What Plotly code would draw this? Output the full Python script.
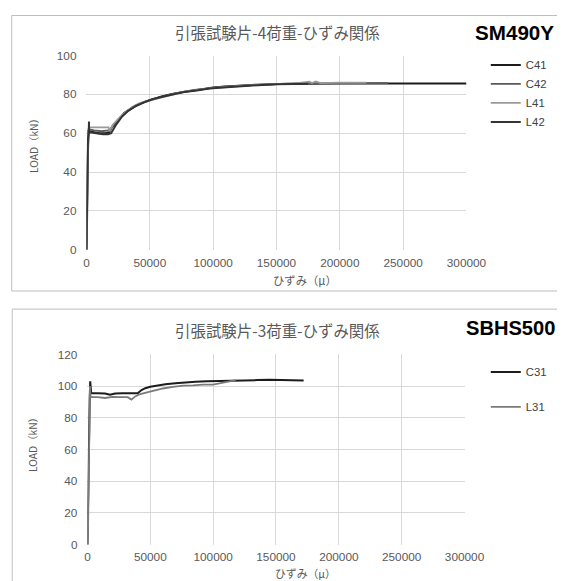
import plotly.graph_objects as go

# ---------------- data: chart 1 (SM490Y, specimen 4) ----------------
c41_x = [0, 300, 800, 1200, 1500, 2000, 5000, 10000, 15000, 18000, 20000, 25000, 30000, 35000,
         40000, 45000, 50000, 60000, 70000, 80000, 90000, 100000, 110000, 120000, 135000, 150000,
         165000, 180000, 200000, 225000, 250000, 275000, 300000]
c41_y = [0, 5, 35, 58, 61, 61, 60.5, 60, 60, 60.5, 63, 67, 70.5, 72.5, 74.5, 76, 77, 79, 80.5,
         81.5, 82.5, 83.5, 84, 84.5, 85, 85.3, 85.5, 85.6, 85.6, 85.6, 85.6, 85.6, 85.6]

c42_x = [0, 400, 1000, 1800, 2200, 6000, 12000, 17000, 19000, 22000, 27000, 32000, 38000, 44000,
         50000, 58000, 66000, 75000, 85000, 95000, 105000, 115000, 130000, 145000, 160000, 175000,
         190000, 205000, 220000, 238000]
c42_y = [0, 20, 50, 60, 62, 61.5, 61, 61.5, 62, 65, 68.5, 71.5, 74, 75.5, 77, 78.5, 80, 81.2,
         82.3, 83, 83.8, 84.2, 84.8, 85.2, 85.5, 85.8, 85.7, 85.8, 85.8, 85.8]

l41_x = [0, 200, 600, 1500, 2000, 2500, 8000, 14000, 17500, 18000, 21000, 26000, 31000, 36000,
         42000, 48000, 55000, 62000, 70000, 78000, 86000, 95000, 105000, 118000, 132000, 148000,
         165000, 176000, 178000, 181000, 185000, 200000, 221000]
l41_y = [0, 10, 45, 62, 63, 63, 63, 63, 63, 61, 64.5, 68, 71, 73.5, 75.5, 76.5, 78, 79.2, 80.2,
         81.5, 82, 83, 83.5, 84.3, 84.8, 85.2, 85.6, 86.5, 85.8, 86.6, 85.8, 86, 86]

l42_x = [0, 500, 1200, 1800, 2000, 2100, 2600, 7000, 13000, 17000, 19500, 23000, 28000, 33000,
         39000, 46000, 52000, 60000, 68000, 77000, 87000, 97000, 108000, 120000, 135000, 150000,
         165000, 175000]
l42_y = [0, 34, 57, 60, 66, 60, 60.5, 60, 59.5, 59.5, 60, 64, 68.5, 71.5, 74, 76, 77.5, 78.8,
         80, 81.2, 82, 83, 83.5, 84.2, 84.7, 85.2, 85.4, 85.5]

# ---------------- data: chart 2 (SBHS500, specimen 3) ----------------
c31_x = [0, 500, 1200, 1800, 2200, 2600, 3000, 8000, 14000, 18000, 22000, 28000, 34000, 40000,
         43000, 46000, 50000, 55000, 62000, 70000, 78000, 86000, 95000, 103000, 110000, 118000,
         125000, 135000, 145000, 155000, 163000, 172000]
c31_y = [0, 38, 72, 92, 103, 97, 95.5, 95.5, 95.3, 94.5, 95.3, 95.5, 95.5, 95.5, 97.5, 98.7,
         99.6, 100.3, 101.2, 101.8, 102.4, 102.8, 103, 103.2, 103.3, 103.8, 104, 103.8, 104,
         103.9, 104.1, 103.6]

l31_x = [0, 400, 1000, 1600, 2000, 2400, 3000, 8000, 14000, 20000, 26000, 32000, 35000, 38000,
         42000, 47000, 53000, 60000, 68000, 76000, 84000, 92000, 100000, 106000, 112000, 118000]
l31_y = [0, 5, 40, 70, 100, 94, 93, 93, 92.5, 93.2, 93, 93, 91.5, 93.5, 95, 96, 97, 98.5, 99.5,
         100.3, 100.5, 101, 101, 101.8, 103, 103.8]

x_ticks = [0, 50000, 100000, 150000, 200000, 250000, 300000]
x_ticktext = ["0", "50000", "100000", "150000", "200000", "250000", "300000"]
y1_ticks = [0, 20, 40, 60, 80, 100]
y2_ticks = [0, 20, 40, 60, 80, 100, 120]

title1 = "引張試験片-4荷重-ひずみ関係"
title2 = "引張試験片-3荷重-ひずみ関係"
label1 = "SM490Y"
label2 = "SBHS500"
x_title = "ひずみ（μ）"
y_title = "LOAD（kN）"

# ---------------- figure ----------------
# observed mapping from page pixels to the photographed picture: pic = A + S * page
S, AX, AY, OFF = 0.97, 3.0, 8.0, 8.0
W, H = 575, 590
K = 1 / S  # font / size compensation


def fx(t):
    return ((t - AX) / S - OFF) / W


def fy(t):
    return 1 - ((t - AY) / S - OFF) / H


fig = go.Figure()

series1 = [("C41", c41_x, c41_y, "#1c1c1c", 2.0), ("C42", c42_x, c42_y, "#595959", 1.8),
           ("L41", l41_x, l41_y, "#9a9a9a", 1.8), ("L42", l42_x, l42_y, "#333333", 2.0)]
for name, xs, ys, col, lw in series1:
    fig.add_trace(go.Scatter(x=xs, y=ys, mode="lines", name=name, xaxis="x", yaxis="y",
                             line=dict(color=col, width=lw), legend="legend"))

series2 = [("C31", c31_x, c31_y, "#1c1c1c", 2.0), ("L31", l31_x, l31_y, "#7a7a7a", 1.8)]
for name, xs, ys, col, lw in series2:
    fig.add_trace(go.Scatter(x=xs, y=ys, mode="lines", name=name, xaxis="x2", yaxis="y2",
                             line=dict(color=col, width=lw), legend="legend2",
                             legendgroup=name))

tickfont = dict(family="Liberation Sans, Arial, sans-serif", size=11.8, color="#595959")
grid = "#d9d9d9"
axcommon = dict(showgrid=True, gridcolor=grid, gridwidth=1, zeroline=False, showline=False,
                ticks="", tickfont=tickfont)
legfont = dict(family="Liberation Sans, sans-serif", size=11 * K, color="#404040")

fig.update_layout(
    width=W, height=H, margin=dict(l=0, r=0, t=0, b=0),
    paper_bgcolor="white", plot_bgcolor="white",
    xaxis=dict(domain=[fx(87), fx(471)], range=[0, 300000], tickvals=x_ticks,
               ticktext=x_ticktext, anchor="y", ticklabelstandoff=4, **axcommon),
    yaxis=dict(domain=[fy(249), fy(56)], range=[0, 100], tickvals=y1_ticks,
               anchor="x", ticklabelstandoff=9, **axcommon),
    xaxis2=dict(domain=[fx(88), fx(469)], range=[0, 300000], tickvals=x_ticks,
                ticktext=x_ticktext, anchor="y2", ticklabelstandoff=4, **axcommon),
    yaxis2=dict(domain=[fy(542), fy(353)], range=[0, 120], tickvals=y2_ticks,
                anchor="x2", ticklabelstandoff=9, **axcommon),
    legend=dict(x=fx(490.5), y=fy(51), xanchor="left", yanchor="top", font=legfont,
                bgcolor="rgba(0,0,0,0)", tracegroupgap=0),
    legend2=dict(x=fx(490.5), y=fy(356), xanchor="left", yanchor="top", font=legfont,
                 bgcolor="rgba(0,0,0,0)", tracegroupgap=16),
    showlegend=True,
)

# chart frames
fig.add_shape(type="rect", xref="paper", yref="paper", x0=fx(11) + 0.5 / W, x1=1.2,
              y0=fy(290), y1=1 - 0.5 / H, line=dict(color="#bfbfbf", width=1), layer="below")
fig.add_shape(type="rect", xref="paper", yref="paper", x0=fx(12), x1=1.2, y0=-0.2,
              y1=fy(308), line=dict(color="#bfbfbf", width=1), layer="below")

cjk = "Noto Sans CJK JP, sans-serif"
bold = "Liberation Sans, Arial, sans-serif"
grey = "#595959"
ann = [
    dict(text=title1, x=fx(280), y=fy(33), font=dict(family=cjk, size=15 * K, color=grey)),
    dict(text=title2, x=fx(280), y=fy(329), font=dict(family=cjk, size=15 * K, color=grey)),
    dict(text=f"<b>{label1}</b>", x=fx(520), y=fy(33),
         font=dict(family=bold, size=20 * K, color="black")),
    dict(text=f"<b>{label2}</b>", x=fx(515), y=fy(327),
         font=dict(family=bold, size=19.5 * K, color="black")),
    dict(text=x_title, x=fx(308), y=fy(279), font=dict(family=cjk, size=11 * K, color=grey)),
    dict(text=x_title, x=fx(308), y=fy(570), font=dict(family=cjk, size=10.5 * K, color=grey)),
    dict(text=y_title, x=fx(33), y=fy(143), textangle=-90,
         font=dict(family=cjk, size=10 * K, color=grey)),
    dict(text=y_title, x=fx(33), y=fy(440), textangle=-90,
         font=dict(family=cjk, size=10 * K, color=grey)),
]
for a in ann:
    fig.add_annotation(xref="paper", yref="paper", showarrow=False, xanchor="center",
                       yanchor="middle", **a)

fig.write_html("out.html")
